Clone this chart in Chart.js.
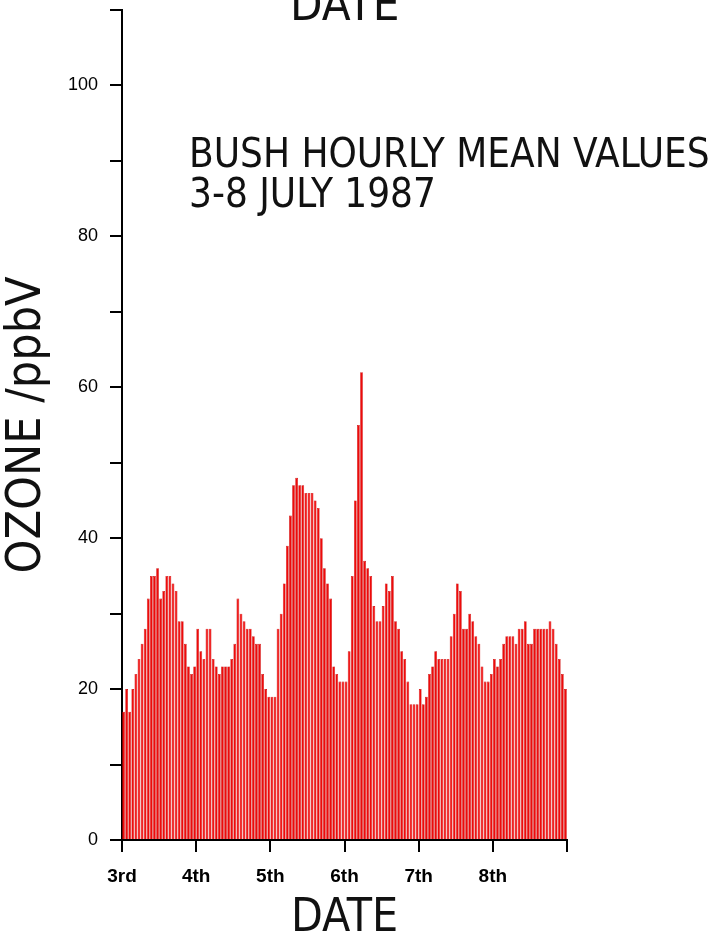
<!DOCTYPE html>
<html>
<head>
<meta charset="utf-8">
<script src="https://cdn.jsdelivr.net/npm/chart.js@4.4.1/dist/chart.umd.min.js"></script>
<style>
  body { margin: 0; background: #fff; }
  #wrap { position: relative; width: 711px; height: 936px; overflow: hidden; }
  .note { position: absolute; font-family: "Liberation Sans Narrow", "DejaVu Sans Condensed", sans-serif; color: #111; line-height: 1; white-space: nowrap; }
</style>
</head>
<body>
<div id="wrap">
  <canvas id="myChart" width="711" height="936"></canvas>
  <div class="note" id="topTitle" style="left:290px; top:-20px; font-size:47px;">DATE</div>
  <div class="note" style="left:189px; top:133px; font-size:40px;">BUSH HOURLY MEAN VALUES<br>3-8 JULY 1987</div>
</div>
<script>
// hourly means, one array per day (24 values each)
const days = ["3rd", "4th", "5th", "6th", "7th", "8th"];
const july3 = [17, 20, 17, 20, 22, 24, 26, 28, 32, 35, 35, 36, 32, 33, 35, 35, 34, 33, 29, 29, 26, 23, 22, 23];
const july4 = [28, 25, 24, 28, 28, 24, 23, 22, 23, 23, 23, 24, 26, 32, 30, 29, 28, 28, 27, 26, 26, 22, 20, 19];
const july5 = [19, 19, 28, 30, 34, 39, 43, 47, 48, 47, 47, 46, 46, 46, 45, 44, 40, 36, 34, 32, 23, 22, 21, 21];
const july6 = [21, 25, 35, 45, 55, 62, 37, 36, 35, 31, 29, 29, 31, 34, 33, 35, 29, 28, 25, 24, 21, 18, 18, 18];
const july7 = [20, 18, 19, 22, 23, 25, 24, 24, 24, 24, 27, 30, 34, 33, 28, 28, 30, 29, 27, 26, 23, 21, 21, 22];
const july8 = [24, 23, 24, 26, 27, 27, 27, 26, 28, 28, 29, 26, 26, 28, 28, 28, 28, 28, 29, 28, 26, 24, 22, 20];

const ozone = [].concat(july3, july4, july5, july6, july7, july8);

// bar i sits in hour slot i..i+1 on a linear hour axis
const points = [];
for (let i = 0; i < ozone.length; i++) {
  points.push({ x: i + 0.5, y: ozone[i] });
}

const ctx = document.getElementById("myChart");

new Chart(ctx, {
  type: "bar",
  data: {
    datasets: [
      {
        data: points,
        backgroundColor: "rgb(238, 10, 10)",
        borderColor: "rgb(200, 0, 0)",
        borderWidth: 0.6,
        barPercentage: 0.9,
        categoryPercentage: 1,
      },
    ],
  },
  options: {
    responsive: false,
    animation: false,
    layout: { padding: { top: 10, right: 144, left: 0, bottom: 0 } },
    plugins: { legend: { display: false }, tooltip: { enabled: false } },
    scales: {
      x: {
        type: "linear",
        min: 0,
        max: 144,
        offset: false,
        afterFit: (scale) => { scale.height = 96; },
        border: { color: "#000", width: 2 },
        grid: { offset: false, drawOnChartArea: false, drawTicks: true, tickLength: 12, color: "#000", lineWidth: 2 },
        ticks: {
          stepSize: 24,
          padding: 13,
          color: "#000",
          font: { family: "Liberation Sans", size: 19, weight: "bold" },
          callback: (v) => days[v / 24] || "",
        },
        title: {
          display: true,
          text: "DATE",
          color: "#111",
          padding: { top: 0, bottom: -6 },
          font: { family: "'Liberation Sans Narrow', 'DejaVu Sans Condensed', sans-serif", size: 46, lineHeight: 1 },
        },
      },
      y: {
        min: 0,
        max: 110,
        afterFit: (scale) => {
          scale.width = 122;
          scale.paddingTop = 0;
          scale.paddingBottom = 0;
        },
        border: { color: "#000", width: 2 },
        grid: { drawOnChartArea: false, drawTicks: true, tickLength: 12, color: "#000", lineWidth: 2 },
        ticks: {
          stepSize: 10,
          padding: 12,
          color: "#000",
          font: { family: "Liberation Sans", size: 18 },
          callback: (v) => (v % 20 === 0 && v <= 100 ? v : ""),
        },
        title: {
          display: true,
          text: "OZONE /ppbV",
          color: "#111",
          padding: { top: 4, bottom: 0 },
          font: { family: "'Liberation Sans Narrow', 'DejaVu Sans Condensed', sans-serif", size: 48, lineHeight: 1 },
        },
      },
    },
  },
});
</script>
</body>
</html>
